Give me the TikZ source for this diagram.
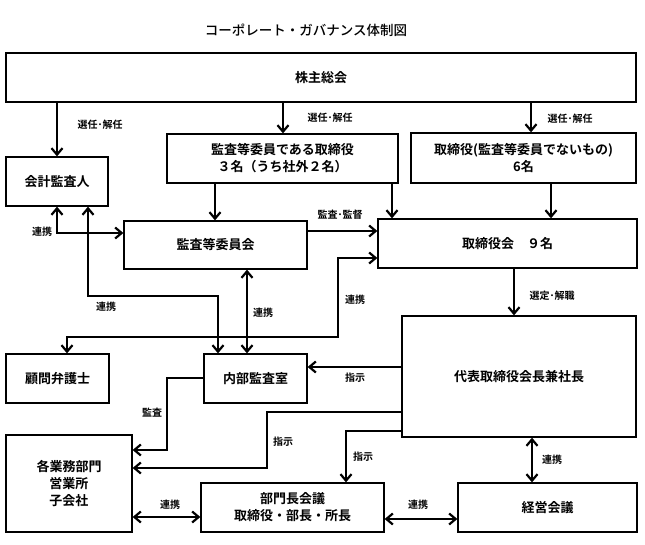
\documentclass[tikz,border=0pt]{standalone}
\usepackage{fontspec}
\usepackage{tikz}
\usetikzlibrary{arrows.meta}
\setmainfont{Noto Sans CJK JP}
\newfontfamily\jpbold{Noto Sans CJK JP Bold}
\newfontfamily\jptitle{Noto Sans CJK JP Medium}
\begin{document}
\begin{tikzpicture}[x=1pt,y=-1pt,line width=2.7pt,
    box/.style={draw,line width=1.3pt,inner sep=0pt,align=center,font=\jpbold\fontsize{13}{17}\selectfont},
    lbl/.style={inner sep=1pt,font=\jpbold\fontsize{10}{11}\selectfont},
    arr/.style={-{Straight Barb[length=6.5pt,width=11pt,line width=2.2pt]}},
    darr/.style={{Straight Barb[length=6.5pt,width=11pt,line width=2.2pt]}-{Straight Barb[length=6.5pt,width=11pt,line width=2.2pt]}}]
  \useasboundingbox (0,0) rectangle (645,545);
  \node[font=\jptitle\fontsize{13.5}{15}\selectfont](title) at (306,30) {コーポレート・ガバナンス体制図};
  % boxes
  \node[box,minimum width=630pt,minimum height=49pt](agm) at (321,77.5) {株主総会};
  \node[box,minimum width=102pt,minimum height=49pt](auditor) at (57,181.5) {会計監査人};
  \node[box,minimum width=231pt,minimum height=49pt](acmdir) at (282.5,158.5) {監査等委員である取締役\\３名（うち社外２名）};
  \node[box,minimum width=225pt,minimum height=50pt](dirs) at (523.5,158) {取締役(監査等委員でないもの)\\6名};
  \node[box,minimum width=183pt,minimum height=48pt](acm) at (215.5,245) {監査等委員会};
  \node[box,minimum width=259pt,minimum height=49pt](board) at (507.5,243.5) {取締役会\quad ９名};
  \node[box,minimum width=103pt,minimum height=49pt](lawyer) at (57.5,378.5) {顧問弁護士};
  \node[box,minimum width=103pt,minimum height=49pt](internal) at (255.5,378.5) {内部監査室};
  \node[box,minimum width=234pt,minimum height=121pt](ceo) at (519,376.5) {代表取締役会長兼社長};
  \node[box,minimum width=126pt,minimum height=97pt](depts) at (69,483.5) {各業務部門\\営業所\\子会社};
  \node[box,minimum width=183pt,minimum height=49pt](deptmtg) at (292.5,507.5) {部門長会議\\取締役・部長・所長};
  \node[box,minimum width=179pt,minimum height=49pt](mgmt) at (547.5,507.5) {経営会議};
  % connectors
  \draw[arr] (agm.south -| auditor.north) -- (auditor.north);
  \draw[arr] (agm.south -| 283,0) -- (acmdir.north -| 283,0);
  \draw[arr] (agm.south -| 531,0) -- (dirs.north -| 531,0);
  \draw[arr] (acmdir.south -| 215,0) -- (acm.north -| 215,0);
  \draw[arr] (acmdir.south -| 392,0) -- (board.north -| 392,0);
  \draw[arr] (dirs.south -| 551,0) -- (board.north -| 551,0);
  \draw[arr] (acm.east |- 0,231) -- (board.west |- 0,231);
  \draw[darr] (board.west |- 0,258) -| (338,337) -| (lawyer.north -| 67,0);
  \draw[darr] (auditor.south) |- (acm.west |- 0,233);
  \draw[darr] (auditor.south -| 88,0) |- (218,296) -- (internal.north -| 218,0);
  \draw[darr] (acm.south -| 247,0) -- (internal.north -| 247,0);
  \draw[arr] (board.south -| 514,0) -- (ceo.north -| 514,0);
  \draw[arr] (ceo.west |- 0,367) -- (internal.east |- 0,367);
  \draw[arr] (internal.west |- 0,378) -| (167,450) -- (depts.east |- 0,450);
  \draw[arr] (ceo.west |- 0,412) -| (267,468) -- (depts.east |- 0,468);
  \draw[arr] (ceo.west |- 0,431) -| (deptmtg.north -| 346,0);
  \draw[darr] (depts.east |- 0,517) -- (deptmtg.west |- 0,517);
  \draw[darr] (deptmtg.east |- 0,519) -- (mgmt.west |- 0,519);
  \draw[darr] (ceo.south -| 532,0) -- (mgmt.north -| 532,0);
  % labels
  \node[lbl](sel1) at (100,125) {選任･解任};
  \node[lbl](sel2) at (330,118) {選任･解任};
  \node[lbl](sel3) at (570,119) {選任･解任};
  \node[lbl](audsup) at (340,215) {監査･監督};
  \node[lbl](link1) at (42,232) {連携};
  \node[lbl](link2) at (106,307) {連携};
  \node[lbl](link3) at (263,313) {連携};
  \node[lbl](link4) at (355,300) {連携};
  \node[lbl](appoint) at (552,296) {選定･解職};
  \node[lbl](order1) at (355,378) {指示};
  \node[lbl](audit) at (152,413) {監査};
  \node[lbl](order2) at (283,442) {指示};
  \node[lbl](order3) at (363,457) {指示};
  \node[lbl](link5) at (170,505) {連携};
  \node[lbl](link6) at (418,505) {連携};
  \node[lbl](link7) at (552,460) {連携};
\end{tikzpicture}
\end{document}
